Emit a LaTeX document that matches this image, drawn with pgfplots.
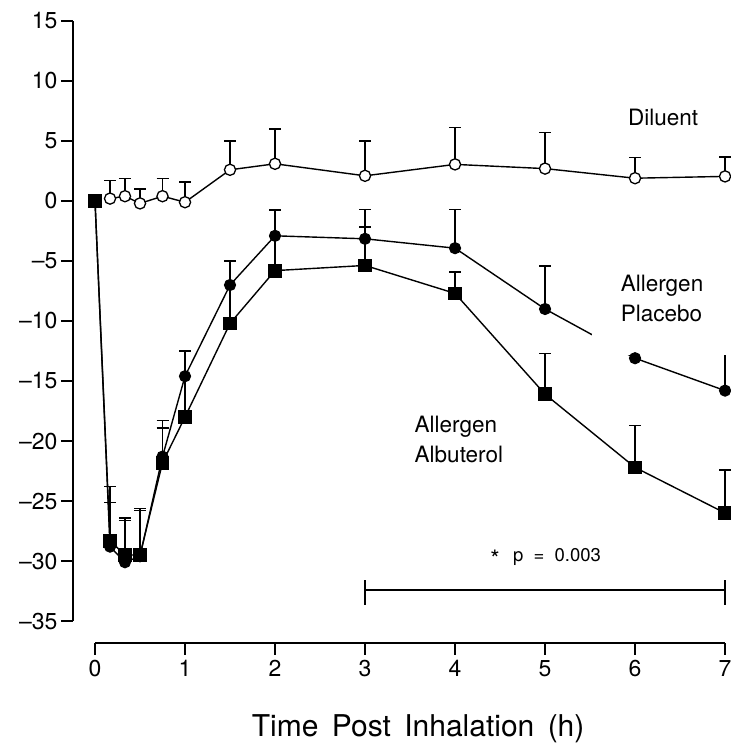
\documentclass[border=0pt]{standalone}
\usepackage{pgfplots}
\pgfplotsset{compat=1.18}
\usepackage{fontspec}
\setmainfont{TeX Gyre Heros}

\pgfplotstableread{
x y e
0.167 0.2 1.5
0.333 0.4 1.5
0.5 -0.2 1.2
0.75 0.4 1.5
1.0 -0.1 1.7
1.5 2.6 2.4
2 3.1 2.9
3 2.1 2.9
4 3.05 3.05
5 2.7 3.0
6 1.9 1.7
7 2.05 1.6
}\diluent

\pgfplotstableread{
x y e
0 0 0
0.167 -28.8 5.0
0.333 -30.1 3.7
0.5 -29.6 4.0
0.75 -21.3 3.0
1 -14.6 2.1
1.5 -7.0 2.0
2 -2.9 2.15
3 -3.15 2.43
4 -3.93 3.2
5 -9.0 3.6
6 -13.1 2.5
7 -15.8 3.5
}\placebo

\pgfplotstableread{
x y e
0 0 0
0.167 -28.3 3.2
0.333 -29.5 2.9
0.5 -29.5 3.7
0.75 -21.8 2.9
1 -18.0 3.4
1.5 -10.2 3.2
2 -5.8 2.9
3 -5.37 3.2
4 -7.7 1.8
5 -16.1 3.4
6 -22.2 3.5
7 -26.0 3.6
}\albuterol

\begin{document}
\begin{tikzpicture}
\begin{axis}[
  x=90pt, y=12pt,
  xmin=-0.244, xmax=7.0, ymin=-36.83, ymax=15,
  axis line style={draw=none},
  clip=false,
  tick align=outside,
  xtick pos=bottom, ytick pos=left,
  xtick={0,1,2,3,4,5,6,7},
  xticklabels={0,1,2,3,4,5,6,7},
  ytick={-35,-30,-25,-20,-15,-10,-5,0,5,10,15},
  yticklabels={--35,--30,--25,--20,--15,--10,--5,0,5,10,15},
  major tick length=12pt,
  tick style={line width=1.6pt, black},
  ticklabel style={font=\fontsize{23}{26}\selectfont},
  xticklabel style={yshift=-2pt},
  errs/.style={forget plot, mark=none, draw=none,
    error bars/.cd, y dir=plus, y explicit,
    error bar style={draw=black, line width=1.4pt},
    error mark=-,
    error mark options={draw=black, line width=1.4pt, mark size=6pt, rotate=90}},
]
% axis lines
\draw[line width=1.8pt] (axis cs:-0.244,-35) -- (axis cs:-0.244,15);
\draw[line width=1.8pt] (axis cs:0,-36.83) -- (axis cs:7,-36.83);

% error bars first
\addplot[errs] table[x=x, y=y, y error plus=e] {\albuterol};
\addplot[errs] table[x=x, y=y, y error plus=e] {\placebo};
\addplot[errs] table[x=x, y=y, y error plus=e] {\diluent};

% lines and markers
\addplot[black, line width=1.4pt, mark=square*, mark size=6.4pt, mark options={fill=black, line width=1pt}]
  table[x=x, y=y] {\albuterol};
\addplot[black, line width=1.4pt, mark=*, mark size=5.6pt, mark options={fill=black, line width=1pt}]
  table[x=x, y=y] {\placebo};
\addplot[black, line width=1.4pt, mark=*, mark size=5.6pt, mark options={fill=white, draw=black, line width=1.3pt}]
  table[x=x, y=y] {\diluent};

% white label box
\fill[white] (axis cs:5.52,-4.5) rectangle (axis cs:7.2,-12.83);

\node[anchor=base west, inner sep=0pt, font=\fontsize{22.5}{25}\selectfont] at (axis cs:5.92,6.33) {Diluent};
\node[anchor=base west, inner sep=0pt, font=\fontsize{22.5}{25}\selectfont] at (axis cs:5.84,-7.58) {Allergen};
\node[anchor=base west, inner sep=0pt, font=\fontsize{22.5}{25}\selectfont] at (axis cs:5.84,-10.08) {Placebo};
\node[anchor=base west, inner sep=0pt, font=\fontsize{22.5}{25}\selectfont] at (axis cs:3.55,-19.25) {Allergen};
\node[anchor=base west, inner sep=0pt, font=\fontsize{22.5}{25}\selectfont] at (axis cs:3.55,-21.75) {Albuterol};
\node[anchor=base west, inner sep=0pt, font=\fontsize{18.5}{22}\selectfont] at (axis cs:4.39,-30.08) {{\fontsize{24}{24}\selectfont\raisebox{-0.45ex}{*}}\;\, p \;=\; 0.003};

% significance bar
\draw[line width=1.6pt] (axis cs:3,-32.4) -- (axis cs:7,-32.4);
\draw[line width=1.6pt] (axis cs:3,-31.6) -- (axis cs:3,-33.67);
\draw[line width=1.6pt] (axis cs:7,-31.6) -- (axis cs:7,-33.67);

\node[anchor=center, inner sep=0pt, font=\fontsize{30}{34}\selectfont] at (axis cs:3.59,-44.0) {Time\, Post\, Inhalation\, (h)};

\coordinate (TL) at (axis cs:-1.0556,16.75);
\coordinate (BR) at (axis cs:7.0556,-45.33);
\end{axis}
\pgfresetboundingbox
\path (TL) rectangle (BR);
\end{tikzpicture}
\end{document}
